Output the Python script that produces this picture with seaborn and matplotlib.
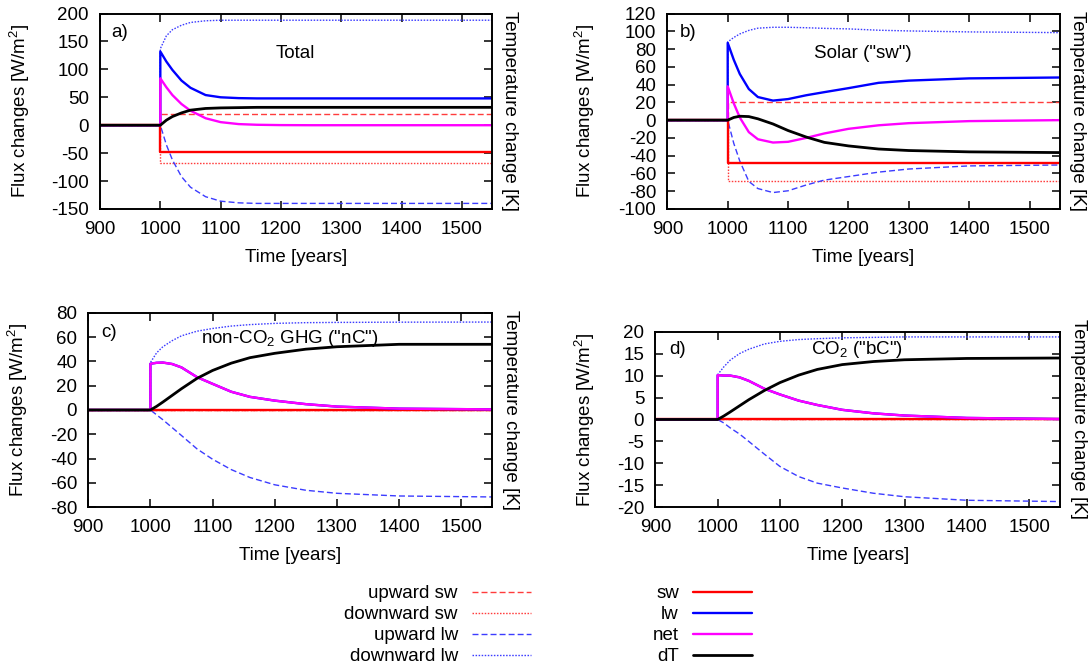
import numpy as np
import pandas as pd
import matplotlib
matplotlib.use("Agg")
import matplotlib.pyplot as plt
import seaborn as sns

# ------------------------------------------------------------
# data (time in years, fluxes in W/m2)
# ------------------------------------------------------------
time = [900, 1000, 1000, 1010, 1020, 1035, 1050, 1075, 1100, 1130, 1160, 1200, 1250, 1300, 1400, 1550]

# a) Total
a_up_sw = [0, 0, 20, 20, 20, 20, 20, 20, 20, 20, 20, 20, 20, 20, 20, 20]
a_dn_sw = [0, 0, -68, -68, -68, -68, -68, -68, -68, -68, -68, -68, -68, -68, -68, -68]
a_up_lw = [0, 0, 0, -35, -62, -92, -111, -128, -136, -139, -140, -140, -140, -140, -140, -140]
a_dn_lw = [0, 0, 137, 160, 171, 179, 184, 187, 188, 188, 188, 188, 188, 188, 188, 188]
a_sw = [0, 0, -48, -48, -48, -48, -48, -48, -48, -48, -48, -48, -48, -48, -48, -48]
a_lw = [0, 0, 132, 114, 99, 80, 67, 54, 50, 48.5, 48, 48, 48, 48, 48, 48]
a_net = [0, 0, 84, 68, 54, 38, 26, 12.5, 5.5, 2, 0.8, 0.2, 0, 0, 0, 0]
a_dT = [0, 0, 0, 9, 15.5, 22, 27, 30, 31, 31.5, 32, 32, 32, 32, 32, 32]

# b) Solar ("sw")
b_up_sw = [0, 0, 20, 20, 20, 20, 20, 20, 20, 20, 20, 20, 20, 20, 20, 20]
b_dn_sw = [0, 0, -68, -68, -68, -68, -68, -68, -68, -68, -68, -68, -68, -68, -68, -68]
b_up_lw = [0, 0, 0, -26, -46, -69, -77, -81.5, -79.5, -73, -67.5, -63.5, -58.5, -55, -51.5, -50.5]
b_dn_lw = [0, 0, 88, 93, 97, 101, 103.5, 104.5, 104.5, 104, 103.3, 102.7, 101.2, 100.4, 99.3, 98.5]
b_sw = [0, 0, -48, -48, -48, -48, -48, -48, -48, -48, -48, -48, -48, -48, -48, -48]
b_lw = [0, 0, 87, 68, 52, 35, 26, 22, 23.7, 28, 31.5, 36, 42, 44.5, 47, 48]
b_net = [0, 0, 38, 19, 3, -13.5, -21.5, -25.2, -24.4, -20, -15, -9.8, -5.8, -3.4, -1.1, 0]
b_dT = [0, 0, 0, 3, 4.4, 4, 1.5, -4.3, -11.7, -19, -25, -29, -32.5, -34.2, -35.7, -36.5]

# c) non-CO2 GHG ("nC")
c_up_sw = [0] * 16
c_dn_sw = [0] * 16
c_up_lw = [0, 0, 0, -4, -8, -14.5, -21, -32, -40.5, -49, -55.5, -61.5, -66, -68.5, -70.7, -71.5]
c_dn_lw = [0, 0, 39, 47, 52, 57, 61, 64.8, 67, 69, 70.2, 71.2, 71.8, 72, 72.2, 72.3]
c_sw = [0] * 16
c_lw = [0, 0, 38, 38.8, 39, 37.8, 35, 27, 21.5, 15, 10.8, 7.7, 4.8, 2.8, 1.1, 0.5]
c_net = [0, 0, 38, 38.8, 39, 37.8, 35, 27, 21.5, 15, 10.8, 7.7, 4.8, 2.8, 1.1, 0.5]
c_dT = [0, 0, 0, 3, 6.5, 12, 17.5, 26, 32.5, 38.5, 43, 46.6, 50, 52, 54, 54]

# d) CO2 ("bC")
d_up_sw = [0] * 16
d_dn_sw = [0] * 16
d_up_lw = [0, 0, 0, -0.8, -1.9, -3.3, -5, -7.9, -10.7, -13, -14.5, -15.6, -16.8, -17.6, -18.4, -18.7]
d_dn_lw = [0, 0, 10.2, 12, 13.5, 15, 16, 17.2, 17.8, 18.2, 18.4, 18.6, 18.7, 18.8, 18.8, 18.8]
d_sw = [0] * 16
d_lw = [0, 0, 10.1, 10, 10, 9.6, 8.8, 7, 5.7, 4.3, 3.3, 2.2, 1.4, 0.9, 0.35, 0.1]
d_net = [0, 0, 10.1, 10, 10, 9.6, 8.8, 7, 5.7, 4.3, 3.3, 2.2, 1.4, 0.9, 0.35, 0.1]
d_dT = [0, 0, 0, 0.8, 1.7, 3.1, 4.5, 6.6, 8.4, 10.1, 11.4, 12.5, 13.2, 13.6, 13.9, 14.0]

series_names = ["upward sw", "downward sw", "upward lw", "downward lw", "sw", "lw", "net", "dT"]
panel_tags = ["a)", "b)", "c)", "d)"]
panel_titles = ["Total", 'Solar ("sw")', 'non-CO$_2$ GHG ("nC")', 'CO$_2$ ("bC")']
yticks = [np.arange(-150, 201, 50), np.arange(-100, 121, 20),
          np.arange(-80, 81, 20), np.arange(-20, 21, 5)]
xticks = [900, 1000, 1100, 1200, 1300, 1400, 1500]

panels = [
    [a_up_sw, a_dn_sw, a_up_lw, a_dn_lw, a_sw, a_lw, a_net, a_dT],
    [b_up_sw, b_dn_sw, b_up_lw, b_dn_lw, b_sw, b_lw, b_net, b_dT],
    [c_up_sw, c_dn_sw, c_up_lw, c_dn_lw, c_sw, c_lw, c_net, c_dT],
    [d_up_sw, d_dn_sw, d_up_lw, d_dn_lw, d_sw, d_lw, d_net, d_dT],
]

# ------------------------------------------------------------
# style
# ------------------------------------------------------------
sns.set_style("ticks")
plt.rcParams["font.family"] = ["Liberation Sans", "DejaVu Sans"]
plt.rcParams["mathtext.fontset"] = "custom"
plt.rcParams["mathtext.rm"] = "Liberation Sans"
plt.rcParams["mathtext.it"] = "Liberation Sans:italic"
plt.rcParams["lines.scale_dashes"] = False
plt.rcParams["axes.unicode_minus"] = False
plt.rcParams["text.color"] = "black"
plt.rcParams["axes.labelcolor"] = "black"

FS = 13.5
DASH = (0, (4.3, 2.2))
DOT = (0, (1.1, 1.1))
styles = {
    "upward sw":   dict(color="#ff3c3c", ls=DASH, lw=1.0),
    "downward sw": dict(color="#ff3c3c", ls=DOT, lw=1.0),
    "upward lw":   dict(color="#3c3cff", ls=DASH, lw=1.0),
    "downward lw": dict(color="#3c3cff", ls=DOT, lw=1.0),
    "sw":          dict(color="#ff0000", ls="-", lw=1.7),
    "lw":          dict(color="#0000ff", ls="-", lw=1.7),
    "net":         dict(color="#ff00ff", ls="-", lw=1.7),
    "dT":          dict(color="#000000", ls="-", lw=2.0),
}

# axes rectangles in figure fractions (left, bottom, width, height)
rects = [
    [0.0918, 0.6862, 0.3602, 0.2935],
    [0.6128, 0.6862, 0.3603, 0.2935],
    [0.0810, 0.2383, 0.3712, 0.2922],
    [0.6018, 0.2383, 0.3718, 0.2637],
]
ylab_x = [-0.174, -0.179, -0.145, -0.144]
tag_pos = [(0.028, 0.905), (0.032, 0.905), (0.033, 0.896), (0.034, 0.896)]
title_pos = [(0.499, 0.798), (0.498, 0.798), (0.499, 0.865), (0.499, 0.896)]

fig = plt.figure(figsize=(10.89, 6.66), dpi=100)

for k in range(4):
    ax = fig.add_axes(rects[k])
    for name, vals in zip(series_names, panels[k]):
        df = pd.DataFrame({"time": time, "value": vals})
        sns.lineplot(data=df, x="time", y="value", ax=ax, estimator=None, sort=False,
                     label=name, legend=False, **styles[name])
    ax.set_xlim(900, 1550)
    ax.set_ylim(yticks[k][0], yticks[k][-1])
    ax.set_xticks(xticks)
    ax.set_yticks(yticks[k])
    ax.tick_params(direction="in", top=True, right=True, length=6, width=1.1,
                   labelsize=FS, colors="black")
    ax.tick_params(axis="x", pad=8.5)
    ax.tick_params(axis="y", pad=8)
    for sp in ax.spines.values():
        sp.set_linewidth(1.4)
        sp.set_color("black")
    ax.set_xlabel("Time [years]", fontsize=FS, labelpad=8)
    ax.set_ylabel("Flux changes [W/m$^2$]", fontsize=FS)
    ax.yaxis.set_label_coords(ylab_x[k], 0.5)
    ax.text(1.045, 0.5, "Temperature change [K]", transform=ax.transAxes,
            rotation=-90, ha="center", va="center", fontsize=FS)
    ax.text(tag_pos[k][0], tag_pos[k][1], panel_tags[k], transform=ax.transAxes,
            ha="left", va="center", fontsize=FS)
    ax.text(title_pos[k][0], title_pos[k][1], panel_titles[k], transform=ax.transAxes,
            ha="center", va="center", fontsize=FS)
    if k == 0:
        handles, labels = ax.get_legend_handles_labels()

leg_kw = dict(frameon=False, markerfirst=False, fontsize=FS, handlelength=3.15,
              handletextpad=0.75, labelspacing=0.21, borderpad=0, borderaxespad=0,
              loc="upper right")
fig.legend(handles[:4], labels[:4], bbox_to_anchor=(531 / 1089, 1 - 585 / 666), **leg_kw)
fig.legend(handles[4:], labels[4:], bbox_to_anchor=(752 / 1089, 1 - 585 / 666), **leg_kw)

fig.savefig("out.png", dpi=100)
